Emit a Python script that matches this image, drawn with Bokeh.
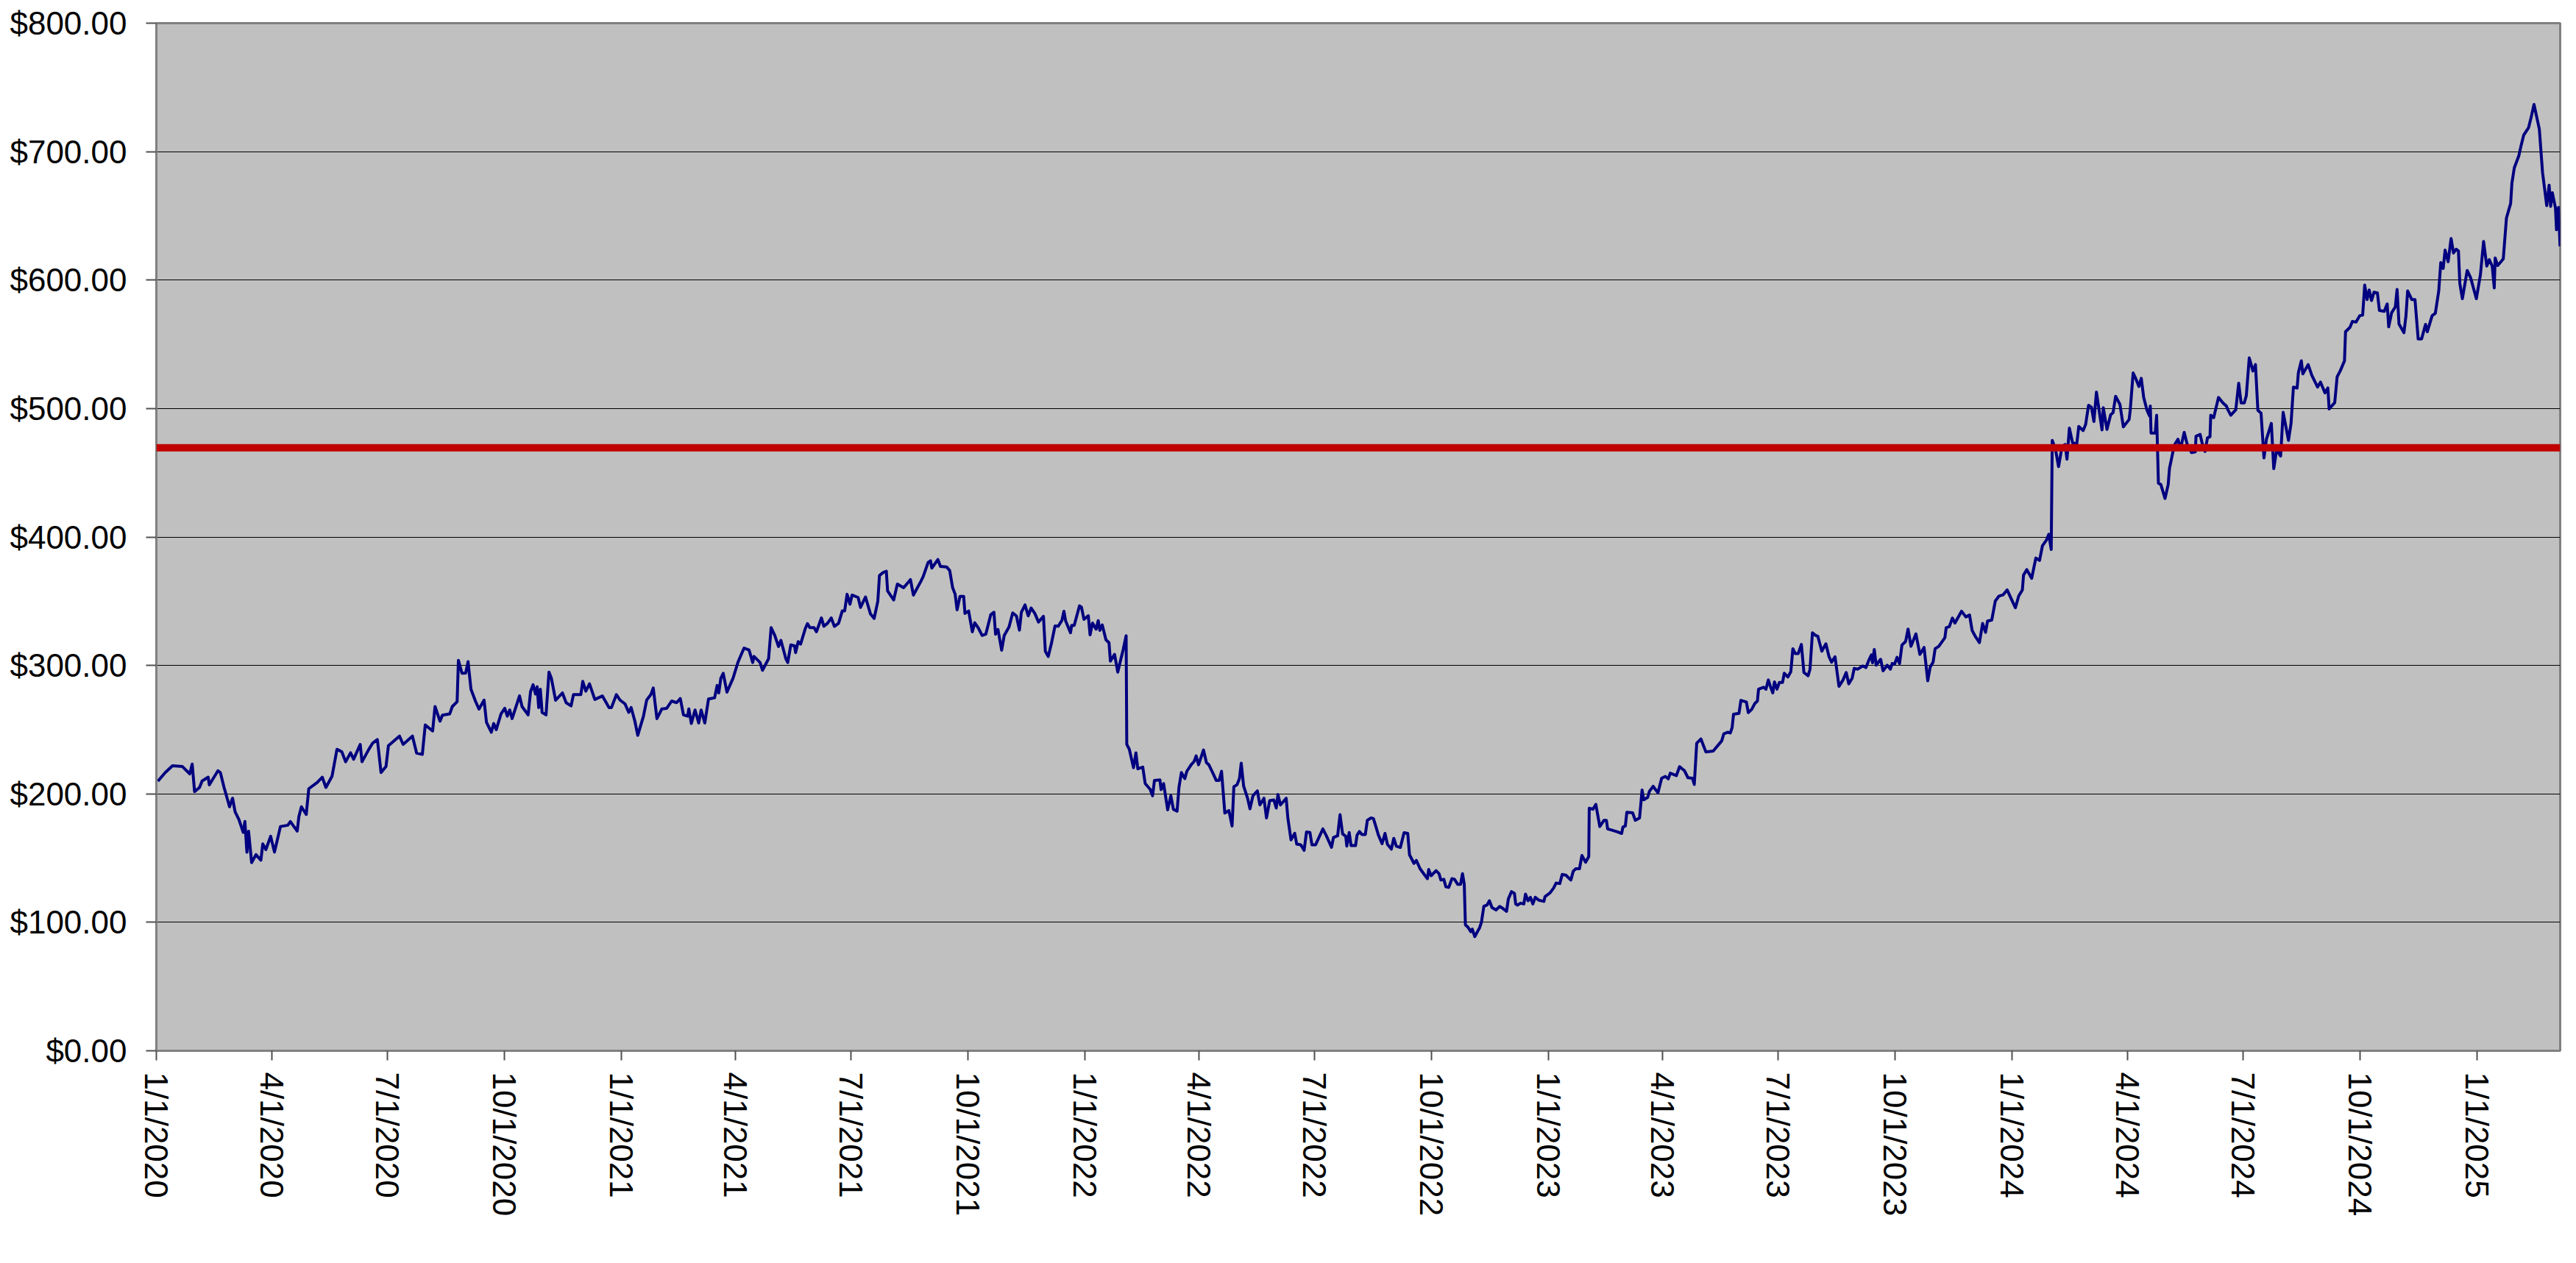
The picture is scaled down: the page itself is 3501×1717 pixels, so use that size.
import pandas as pd
from bokeh.plotting import figure
from bokeh.models import (Range1d, FixedTicker, CustomJSTickFormatter,
                          NumeralTickFormatter, Span, ColumnDataSource)
from bokeh.embed import file_html
from bokeh.resources import INLINE

# ---------------- data ----------------
start_date = "2020-01-01"
axis_end_days = 1892.5          # right edge of the plot, in days after start_date

# days after start_date of each sample
day_offset = [
    1.2, 7, 12.7, 20.5, 26.3, 28.2, 30.1, 34, 36, 40.8, 41.7, 48.5, 50.4, 53.3, 55.2, 57.6, 60, 62, 65, 68.4,
    69.7, 71.3, 72.6, 75, 78.4, 82.3, 83.8, 86.2, 90, 93, 97.7, 103.5, 105.5, 110.9, 112.2, 114.2, 118, 120,
    126.7, 130.6, 133.5, 138.3, 142.2, 146, 149, 152.9, 155.3, 160.5, 161.9, 167.3, 170.2, 174, 176.9, 180.8,
    182.7, 191.4, 194.3, 201.6, 204.9, 209.4, 211.7, 217.5, 219.4, 223.3, 225.2, 231, 233, 236.8, 237.8,
    240.6, 243.5, 245.4, 247.7, 251.3, 254, 258, 259.9, 263.7, 265.6, 267.6, 271.4, 274.3, 276.3, 278.2, 280.1,
    285.9, 287.9, 292.7, 294.6, 296.6, 298.5, 299.8, 301, 302.3, 303.7, 306.8, 309.1, 311, 314.3, 319.7, 322.6,
    326.5, 328.4, 334.2, 335.7, 338.1, 341, 345.2, 351.2, 356.4, 358.3, 362.2, 365.1, 369, 371.9, 373.8, 376.7,
    379, 383.5, 386, 389.3, 391.2, 394.1, 398, 401.8, 405.7, 409.6, 412.5, 415, 418.3, 419.2, 421.2, 424.1, 427,
    428.9, 431.8, 434.7, 439.5, 441.5, 442.8, 444.4, 446.3, 449.2, 454, 457.9, 460.8, 462.7, 466.6,
    469.5, 470.5, 475.3, 477.2, 482, 484, 486.9, 489.8, 491.7, 495.6, 497.1, 499.5, 502.4, 503.3, 505.3, 507.2,
    511, 512.6, 514.5, 517.8, 519.7, 523.6, 525.5, 528.4, 531.3, 533.8, 537.1, 540, 541.9, 543.8, 546.1, 547.7,
    552.5, 554.4, 558.3, 562.2, 565.1, 568, 569.3, 572.4, 574.7, 575.7, 580.5, 583.4, 588.3, 593.7, 596, 601.8,
    603.7, 607.6, 609.5, 610.5, 615.3, 617.3, 622.1, 624.6, 626.9, 628.9, 630.4, 632.7, 635.6, 636.6, 639.5,
    642.4, 644.3, 647.2, 650.1, 653, 656.9, 659.4, 660.7, 662.6, 665.5, 667.5, 671.3, 674.2, 677.1, 679.5, 681,
    683.9, 686.4, 688.7, 691.6, 694.5, 698.4, 699.9, 702.2,
    704.8, 707.5, 710, 712.9, 714.5, 715.8, 719.7, 720.6, 722.6, 726.8, 728.3, 730.3, 733.7, 735.1, 737, 739.9,
    741.5, 742.8, 744.7, 747.6, 750, 751.1, 754.4, 756.9, 759.2, 761.2, 763.5, 764, 766, 769.3, 771.2, 772.7,
    776.6, 778.5, 782.4, 784.3, 785.8, 790.1, 791, 793, 796.2, 798.7, 800.7, 803.6, 805.1, 807, 809.7, 811.3,
    814.7, 817, 818.6, 820.5, 824.4, 826.7, 828.6, 832.5, 834.4, 836.7, 838.6, 841.2, 844.4, 846.9, 848.3, 850.8,
    852.7, 854.1, 856, 859.1, 861, 863.3, 866.8, 868.8, 872, 874, 876.5, 879.8, 881.7, 883, 885, 889.5, 890.8,
    893.3, 896.2, 897.8, 901, 903.6, 905.5, 908.2, 909.8, 912.6, 918.4, 921.3, 925.2, 926.7, 930, 931.9, 933.9,
    936.4, 937.2, 939.1, 940.6,
    944.1, 945.3, 947.2, 949.1, 951.8, 953.4, 956.3, 958.2, 960.1, 962.1, 965, 967.3, 969.2, 972.3, 974.2, 976.2,
    979.4, 982.3, 985.2, 986.6, 990.1, 992, 994.9, 998.2, 1000.7, 1001.7, 1003.6, 1007.5, 1009.8, 1011.3,
    1013.6, 1015.2, 1017.5, 1020, 1022, 1024.5, 1026.8, 1028.3, 1029.7, 1030.6, 1032.6, 1034.9, 1036, 1038,
    1039.9, 1041.8, 1043.2, 1045.1, 1047.6, 1049.5, 1051.5, 1054.7, 1057.6, 1060.5, 1063, 1064.4, 1066.9,
    1069.2, 1070.2, 1071.5, 1074, 1076.6, 1077.9, 1079.9, 1081.8, 1083.7, 1085.6, 1088.5, 1092.4, 1093.3,
    1097.2, 1100.1, 1102, 1104.9, 1106.8, 1109.7, 1113.6, 1115.5, 1117.5, 1120.4, 1122.3, 1125.2, 1127.7,
    1128.1, 1131, 1133.3, 1136.4, 1139.7, 1141.6, 1142.6, 1146.1, 1150.3, 1153.6, 1154.6, 1156.5, 1157.7,
    1162.3, 1164.3, 1167.7,
    1169.7, 1171, 1174.1, 1175.5, 1178.4, 1182.2, 1185.1, 1188, 1190.3, 1191.9, 1196.7, 1199.2, 1203.1, 1205.8,
    1209.3, 1210.8, 1212.7, 1216, 1219.9, 1225.7, 1227.6, 1230.5, 1232.4, 1234, 1237.3, 1239.2, 1240.6, 1241.7,
    1246, 1247.5, 1251.8, 1253.3, 1256, 1258.5, 1260.5, 1261.4, 1265.3, 1267.2, 1269.1, 1270.7, 1272.6, 1273.9,
    1275.9, 1277.8, 1280.3, 1281.6, 1284.5, 1286.8, 1288.4, 1290.3, 1292.6, 1295.1, 1297.1, 1300.4, 1301.9,
    1303.8, 1306.1, 1308.1, 1311.2, 1314.4, 1316.9, 1318.9, 1321.6, 1324.7, 1327.9, 1330.4, 1332.4, 1335.1,
    1336.7, 1339.5, 1343.4, 1345.9, 1348.2, 1350.2, 1351.1, 1352.5, 1354, 1357.5, 1359.4, 1362.7, 1365.2,
    1366.6, 1368.5, 1370.4, 1372.4, 1374.3, 1377.2, 1379.1, 1381.4, 1385.3, 1388.4, 1391.7, 1394.6, 1396.5,
    1398.8, 1400.4, 1403.3, 1408.1, 1409.1, 1411.6,
    1414, 1416, 1421.2, 1424.6, 1427.5, 1429.5, 1432.4, 1435.3, 1437.8, 1440.1, 1441.7, 1445, 1447.8, 1450.7,
    1454, 1457.1, 1460.4, 1463.6, 1466.2, 1469.1, 1470, 1472.6, 1476.4, 1479.7, 1482.6, 1484.9, 1488, 1489.9,
    1491.8, 1492.6, 1495.1, 1497.6, 1500.3, 1502.8, 1504.2, 1506.1, 1508.6, 1511.9, 1513.5, 1516.9, 1518.9,
    1521.2, 1523.5, 1525.4, 1527.4, 1529.3, 1531.8, 1532.8, 1535.7, 1538.6, 1540.5, 1542.5, 1545.9, 1548.6,
    1553.1, 1554, 1556.3, 1558.8, 1560.8, 1562.7, 1564.6, 1567.1, 1569.1, 1569.8, 1570.4, 1573.7, 1574.8,
    1576.2, 1578.1, 1581.4, 1583.9, 1584.9, 1588.7, 1591.6, 1593.6, 1596.5, 1598.8, 1602.3, 1605.2, 1605.8,
    1609, 1611, 1612.9, 1614.8, 1616.8, 1617.4, 1619.7, 1623.5, 1627, 1629.7, 1630.9, 1633.2, 1637.1, 1639.4,
    1641.3, 1643.8,
    1645.4, 1647.7, 1650.6, 1652.6, 1654.5, 1657, 1659.3, 1661.2, 1665.1, 1667, 1669.3, 1672.4, 1674.4, 1678.6,
    1680.6, 1682.5, 1685.4, 1686.4, 1688.7, 1689.9, 1694.1, 1697, 1701.5, 1703.8, 1707.3, 1709.6, 1710.6, 1715,
    1716.9, 1719.3, 1722.7, 1723.5, 1727, 1728.9, 1731.8, 1734.7, 1737, 1738.6, 1740.5, 1742.1, 1744, 1745.9,
    1748.6, 1750.2, 1754, 1756.3, 1757.5, 1759.8, 1762.7, 1764.1, 1765.6, 1769.5, 1771.1, 1772.4, 1775.7,
    1778.2, 1780.7, 1783.4, 1786.5, 1787.9, 1791.7, 1794.2, 1796.9, 1798.5, 1800.4, 1801.9, 1804.3, 1806.6,
    1808.5, 1810.6, 1812.4, 1813.5, 1815.5, 1819.3, 1822, 1826.5, 1829.7, 1832.2, 1834.7, 1836.7, 1839, 1840.6,
    1841.3, 1843.3, 1847.7, 1850.2, 1853.5, 1854.5, 1856.4, 1859.9, 1861.8, 1863.8, 1867.6, 1869.6, 1871.9,
    1876.1, 1878.6, 1881.9, 1883.8, 1885, 1886.3, 1888.8, 1889.6, 1891.2, 1892.4,
]

# price in dollars at each sample
price = [
    209.9, 216.6, 221.9, 221.3, 215.6, 223.2, 201.7, 205, 210, 213, 207, 218, 216.6, 205, 198.5, 190, 196.6, 186,
    180, 170, 178.5, 154.6, 171, 146.5, 152.7, 148.4, 161, 156.6, 167, 154.7, 174.6, 175.6, 178.5, 171, 182.3,
    190, 184, 204, 209, 213, 205, 213.7, 234.7, 232.8, 225, 232, 227, 238.5, 225, 234.7, 239.4, 242.3, 216.6,
    221.3, 237.5, 245, 238.5, 245, 231.8, 230.8, 253.7, 249, 268, 256.6, 261.3, 262.3, 268, 271.8, 304,
    293.9, 294, 302.9, 281.5, 272, 266, 273, 255.7, 248, 254.8, 250, 262.4, 266.6, 260.5, 265.3, 258.6,
    276.3, 268, 261.5, 279.6, 285, 277.7, 283.4, 267.2, 281.5, 263.4, 261.5, 294.8, 290, 272.9, 278.6, 271,
    268.5, 277.3, 277.3, 287.6, 280, 285.7, 273.5, 276.2, 267.2, 267.2, 277.3, 273, 270, 263.4, 267.2, 256.7,
    245.6, 260.5, 273, 277.3, 282.4, 258.6, 266.2, 266.6, 272.3, 271, 274.2, 261.5, 260.5, 266.2, 254.8, 265.3,
    255.2, 265.3, 255.2, 273.9, 274.8, 284.4, 278.6, 290, 293.9, 279.2, 290, 302.5, 309.2, 313.5, 312,
    302.3, 307, 302.3, 296.2, 305.2, 329.4, 323.3, 314.7, 319.5, 305.2, 302.3, 316, 315.3, 310, 318.5, 316.6,
    329, 332.5, 329.4, 329.4, 326.2, 337, 330.5, 332.8, 337, 330.4, 332.8, 342.4, 342.4, 355.4, 347.7, 354.8,
    352.9, 345.2, 353.3, 340.1, 336.6, 350, 370, 372.5, 373.3, 358, 351, 363.4, 360.5, 366.8, 354.8, 365.3,
    369.1, 380.2, 381.5, 375.8, 382.4, 377.1, 376.7, 373.9, 360.5, 355.4, 343.3, 353.8, 353.8, 340.5, 342.4,
    326.2, 333.2, 329, 323.3, 324.3, 339.5, 341.4, 324.3, 328, 311.8, 323.3, 330, 340.9, 338.6, 327.5, 341.4,
    347.1, 338.6, 344.7, 340.5, 333.8, 338.2, 310.9, 307,
    317.7, 330.7, 330.5, 334.9, 342.2, 334.9, 325.4, 331.1, 331.1, 346.4, 345.4, 335.9, 338.7, 323.8, 333, 328.2,
    334.9, 327.3, 331.5, 320, 317.7, 303.4, 308.6, 294.8, 304.4, 312.4, 323.1, 238.6, 234.7, 220.4, 231.9, 219.5,
    220.8, 208, 203.6, 198.5, 210.5, 210.9, 203.3, 208, 187.6, 198.5, 188, 186.5, 205.2, 216.6, 211.9, 217.6,
    222.7, 225.2, 229.6, 222.7, 234.2, 224.3, 222.7, 214.7, 210.5, 210.5, 217.6, 185.1, 187, 175, 205.6, 207.1,
    211.9, 223.9, 206.1, 196.6, 188.4, 198.5, 202.3, 191.4, 196.6, 181.3, 194.7, 195.3, 189, 199.5, 191.4,
    196.6, 181.3, 164.2, 169.3, 160.9, 160.3, 156, 170.4, 169.9, 160.3, 160.3, 172.7, 167, 158.4, 166, 167.4,
    183.8, 168.9, 167, 159.4, 169.9, 159.7,
    159.7, 167.9, 170.7, 168.4, 168.4, 179.4, 181.3, 180.7, 174.6, 167.9, 161.2, 169.2, 160.8, 157, 165.4, 159.3,
    158.3, 169.8, 169.2, 152.6, 145.9, 148.2, 141.7, 137.3, 134, 141.1, 136.3, 140.2, 137.9, 132.9, 133.5,
    127.7, 127.2, 134, 133.5, 129.6, 129.6, 137.9, 129.6, 98.1, 96.2, 92.7, 94.7, 88.9, 92.4, 95.8, 100, 112.4,
    113.4, 116.8, 111.5, 109.6, 112.4, 110.5, 108.6, 118.2, 123.9, 122.6, 114.3, 113.4, 114.9, 114.3, 122,
    116.8, 119.5, 114.3, 119.5, 117.2, 116.3, 120.1, 122.9, 126.8, 130.6, 130.2, 137.3, 136.7, 132.9, 139.8,
    141.7, 141.7, 152, 146.8, 151.2, 188.9, 188, 191.8, 174.6, 179.4, 179.4, 172.7, 171.7, 170.4, 169.2, 174.2,
    175, 185.7, 185.2, 179.4, 181.3,
    203, 195.4, 197.3, 202.1, 205.9, 200.8, 212.2, 213.6, 211.7, 216.1, 214.2, 221.2, 218, 212.6, 212.2, 207.3,
    239.4, 242.8, 232.7, 233.3, 235.6, 239, 241.3, 246.7, 248, 247.4, 251.8, 262, 262.7, 272.8, 271.5, 263.3,
    265.8, 270.4, 272.3, 281.5, 283, 281.5, 288.7, 283.7, 278.6, 287.2, 281.5, 286.8, 286.8, 293.9, 291, 295.2,
    313, 309.2, 309.2, 316.3, 294.5, 292, 297.1, 325.4, 323.5, 322.6, 311.1, 316.8, 306.7, 302.5, 306.7, 283.7,
    288.7, 294.5, 285.7, 290.1, 297.7, 297.1, 299.6, 298.3, 304, 308.2, 302.1, 312.4, 300.2, 304.8, 295.8,
    300.2, 297.1, 301.5, 301, 306.3, 301.5, 315.9, 318.7, 328.3, 314.9, 324.5, 308.6, 314, 288.1, 298.7, 302.5,
    313, 314.9, 321.6, 329.3, 330.2,
    336.9, 333, 342.2, 337.8, 339.2, 327.3, 322, 317.8, 332.7, 325.8, 334.6, 335.3, 350.2, 354, 355, 358.8,
    351.7, 344.9, 354, 358.8, 370.3, 374.6, 367.8, 383.6, 381.7, 393.2, 397.5, 402.1, 390.3, 475.2, 468.5,
    454.8, 470.4, 472, 460.5, 484.7, 473.3, 472.3, 486.1, 482.8, 487.6, 502.5, 501, 489.9, 512.8, 500, 483.4,
    500.6, 483.8, 495.2, 496.8, 509.5, 503.2, 485.7, 491.4, 498.7, 527.7, 522.3, 517.2, 523.5, 508.6, 499,
    494.3, 501.9, 480.9, 480.9, 494.8, 441.8, 440.9, 430, 440.9, 453.3, 471.4, 476.1, 468.5, 481.5, 472.3,
    465.7, 466.2, 478.4, 479.9, 471.4, 466.6, 477.1, 478.1, 494.8, 492.9, 508.6, 504.4, 501.9, 499, 494.8, 499,
    519.7, 504.4, 504.4,
    510, 539.4, 529.2, 534.2, 498.6, 496.3, 461.6, 475.9, 488.4, 453.2, 468, 463, 497, 475.2, 488.4, 516.7, 516,
    528, 537.2, 527, 534.2, 525.8, 516.7, 520.6, 512.2, 516, 499.7, 504.6, 524.7, 529.2, 537.2, 559.8, 563.2,
    567.8, 567.3, 572.3, 572.8, 596.1, 584.8, 592.3, 584.1, 590.5, 590, 576.4, 575.7, 581.4, 563.6, 574.6,
    579.1, 592.7, 565.8, 559, 572.3, 591.6, 584.8, 584.8, 554.2, 554.2, 565.5, 559.8, 572.3, 574.1, 591.6,
    613.6, 609.1, 623.3, 614.3, 632.4, 621.1, 624, 622.7, 597.3, 585.5, 607.5, 601.8, 585.5, 604.1, 630.1,
    610.9, 615.9, 610.9, 593.9, 617.2, 611.3, 616.5, 648.3, 659.6, 675.5, 687.5, 696.6, 705, 712.9, 718.6,
    726.5, 736.7, 717.5, 683.9, 658, 673.9, 657.4, 668, 656.2, 639.2, 656.6, 626.3,
]

threshold = 469.4               # the red reference line

tick_dates = [
    "2020-01-01", "2020-04-01", "2020-07-01", "2020-10-01",
    "2021-01-01", "2021-04-01", "2021-07-01", "2021-10-01",
    "2022-01-01", "2022-04-01", "2022-07-01", "2022-10-01",
    "2023-01-01", "2023-04-01", "2023-07-01", "2023-10-01",
    "2024-01-01", "2024-04-01", "2024-07-01", "2024-10-01",
    "2025-01-01",
]
y_ticks = [0, 100, 200, 300, 400, 500, 600, 700, 800]

# ---------------- figure ----------------
t0 = pd.Timestamp(start_date)
dates = t0 + pd.to_timedelta(day_offset, unit="D")
source = ColumnDataSource(dict(date=dates, price=price))

FONT = "Liberation Sans"

p = figure(
    width=3493, height=1709,
    x_axis_type="datetime",
    x_range=Range1d(t0, t0 + pd.Timedelta(days=axis_end_days)),
    y_range=Range1d(y_ticks[0], y_ticks[-1]),
    output_backend="svg", toolbar_location=None,
    min_border_left=212, min_border_right=14,
    min_border_top=31, min_border_bottom=281,
)
p.background_fill_color = "#C0C0C0"
p.border_fill_color = "white"
p.outline_line_color = "#808080"
p.outline_line_width = 3

p.xgrid.visible = False
p.ygrid.grid_line_color = "black"
p.ygrid.grid_line_width = 1

# y axis
p.yaxis.ticker = FixedTicker(ticks=y_ticks)
p.yaxis.formatter = NumeralTickFormatter(format="$0,0.00")
# x axis
tick_ms = [int(pd.Timestamp(d).value // 10**6) for d in tick_dates]
p.xaxis.ticker = FixedTicker(ticks=tick_ms)
p.xaxis.formatter = CustomJSTickFormatter(code="""
    const d = new Date(tick);
    return (d.getUTCMonth() + 1) + '/' + d.getUTCDate() + '/' + d.getUTCFullYear();
""")
p.xaxis.major_label_orientation = "vertical"

for ax in (p.xaxis[0], p.yaxis[0]):
    ax.axis_line_color = "#808080"
    ax.axis_line_width = 3
    ax.major_tick_line_color = "#505050"
    ax.major_tick_line_width = 2
    ax.major_tick_in = 0
    ax.minor_tick_line_color = None
    ax.major_label_text_font = FONT
    ax.major_label_text_font_size = "44px"
    ax.major_label_text_color = "black"

p.yaxis.major_tick_out = 14
p.yaxis.major_label_standoff = 26
p.xaxis.major_tick_out = 13
p.xaxis.major_label_standoff = 16

p.line("date", "price", source=source, line_color="#000080", line_width=4, line_join="round")

p.add_layout(Span(location=threshold, dimension="width", line_color="#C00000", line_width=10))

open("out.html", "w").write(file_html(p, INLINE))
